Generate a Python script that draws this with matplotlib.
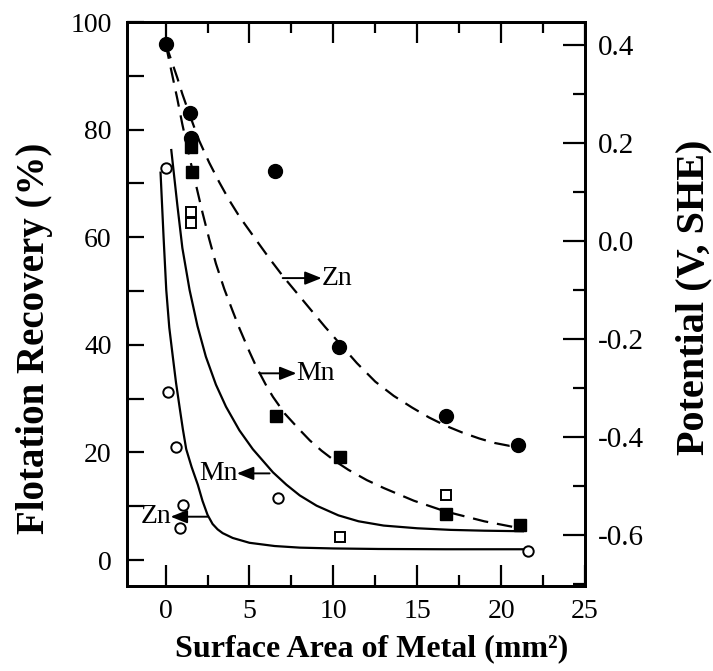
import numpy as np
import matplotlib
matplotlib.use("Agg")
import matplotlib.pyplot as plt
from matplotlib.ticker import MultipleLocator, FixedLocator

plt.rcParams['font.family'] = ['Liberation Serif', 'DejaVu Serif']
plt.rcParams['axes.unicode_minus'] = False

# ---- Potential (right axis, V vs SHE): filled symbols and dashed curves ----
zn_pot_x = [0.0, 1.43, 1.5, 6.5, 10.36, 16.7, 21.0]
zn_pot_v = [0.403, 0.262, 0.210, 0.143, -0.216, -0.357, -0.416]
mn_pot_x = [1.5, 1.6, 6.6, 10.4, 16.7, 21.1]
mn_pot_v = [0.192, 0.141, -0.358, -0.440, -0.558, -0.580]

zn_pot_curve_x = [0.0, 0.35, 0.7, 1.0, 1.43, 2.0, 2.6, 3.2, 3.8, 4.4, 5.4, 6.2, 7.0, 7.8, 8.6, 9.5,
                  10.4, 11.4, 12.5, 13.6, 14.7, 15.7, 16.7, 17.7, 18.7, 19.6, 20.5, 21.0]
zn_pot_curve_v = [0.403, 0.368, 0.333, 0.300, 0.258, 0.205, 0.160, 0.120, 0.083, 0.050, 0.002, -0.036,
                  -0.072, -0.105, -0.138, -0.175, -0.210, -0.249, -0.287, -0.316, -0.340, -0.360,
                  -0.377, -0.391, -0.403, -0.412, -0.418, -0.417]
mn_pot_curve_x = [0.0, 0.34, 0.7, 1.0, 1.5, 2.2, 2.6, 3.0, 3.5, 4.0, 4.4, 5.0, 5.4, 6.0, 6.4, 7.1,
                  7.9, 8.6, 9.3, 10.1, 10.9, 12.0, 13.0, 14.8, 16.7, 19.0, 21.1]
mn_pot_curve_v = [0.403, 0.348, 0.290, 0.238, 0.160, 0.058, 0.004, -0.046, -0.098, -0.143, -0.178,
                  -0.226, -0.256, -0.295, -0.318, -0.352, -0.382, -0.407, -0.428, -0.449, -0.467,
                  -0.488, -0.504, -0.530, -0.552, -0.572, -0.586]

# ---- Flotation recovery (left axis, %): open symbols and solid curves ----
zn_rec_x = [0.0, 0.14, 0.64, 1.03, 0.85, 6.7, 21.6]
zn_rec_y = [72.8, 31.3, 21.0, 10.3, 5.9, 11.5, 1.7]
mn_rec_x = [1.5, 1.5, 10.4, 16.7]
mn_rec_y = [64.6, 62.7, 4.2, 12.1]

zn_rec_curve_x = [-0.3, -0.12, 0.04, 0.22, 0.43, 0.62, 0.83, 1.03, 1.23, 1.55, 1.92, 2.2, 2.5,
                  2.8, 3.1, 3.4, 4.0, 5.0, 6.5, 8.0, 10.0, 12.7, 16.7, 21.3]
zn_rec_curve_y = [72.0, 60.0, 50.2, 43.2, 37.8, 33.0, 28.5, 24.3, 20.6, 17.3, 14.0, 11.0, 8.4,
                  6.7, 5.7, 5.0, 4.1, 3.2, 2.6, 2.3, 2.15, 2.05, 2.0, 2.0]
mn_rec_curve_x = [0.34, 0.7, 1.0, 1.43, 1.9, 2.4, 3.0, 3.6, 4.4, 5.2, 6.4, 7.2, 8.0, 9.0, 10.3,
                  11.5, 13.0, 15.0, 17.0, 19.0, 21.3]
mn_rec_curve_y = [76.2, 66.0, 58.0, 50.2, 43.5, 37.8, 32.6, 28.5, 24.1, 20.6, 16.3, 14.0, 12.0,
                  10.1, 8.3, 7.2, 6.4, 5.9, 5.6, 5.45, 5.35]

x_ticks = [0, 5, 10, 15, 20, 25]
left_ticks = [0, 20, 40, 60, 80, 100]
right_ticks = [-0.6, -0.4, -0.2, 0.0, 0.2, 0.4]
right_tick_labels = ['-0.6', '-0.4', '-0.2', '0.0', '0.2', '0.4']

fig = plt.figure(figsize=(7.13, 6.71), dpi=100)
ax = fig.add_axes([127 / 713, 1 - 586 / 671, 458 / 713, 564 / 671])
ax2 = ax.twinx()

ax.set_xlim(-2.3, 25)
ax.set_ylim(-4.83, 100)
ax2.set_ylim(-0.704, 0.447)

# solid recovery curves and open symbols
ax.plot(zn_rec_curve_x, zn_rec_curve_y, '-', color='k', lw=1.6, solid_joinstyle='round')
ax.plot(mn_rec_curve_x, mn_rec_curve_y, '-', color='k', lw=1.6, solid_joinstyle='round')
ax.plot(zn_rec_x, zn_rec_y, 'o', mfc='white', mec='k', mew=1.4, ms=7.5, ls='none', zorder=5)
ax.plot(mn_rec_x, mn_rec_y, 's', mfc='white', mec='k', mew=1.4, ms=7, ls='none', zorder=5)

# dashed potential curves and filled symbols
ax2.plot(zn_pot_curve_x, zn_pot_curve_v, color='k', lw=1.6, ls=(0, (7, 4)))
ax2.plot(mn_pot_curve_x, mn_pot_curve_v, color='k', lw=1.6, ls=(0, (7, 4)))
ax2.plot(zn_pot_x, zn_pot_v, 'o', color='k', ms=10, ls='none', zorder=5)
ax2.plot(mn_pot_x, mn_pot_v, 's', color='k', ms=8, ls='none', zorder=5)

# annotations
arrow_kw = dict(arrowstyle='-|>,head_length=0.5,head_width=0.2', color='k', lw=1.4,
                mutation_scale=20, shrinkA=0, shrinkB=0)
ann_fs = 20
ax.annotate('', xy=(9.3, 52.4), xytext=(6.98, 52.4), arrowprops=arrow_kw)
ax.text(9.3, 52.4, 'Zn', fontsize=ann_fs, ha='left', va='center')
ax.annotate('', xy=(7.8, 34.7), xytext=(5.6, 34.7), arrowprops=arrow_kw)
ax.text(7.8, 34.7, 'Mn', fontsize=ann_fs, ha='left', va='center')
ax.annotate('', xy=(4.25, 16.1), xytext=(6.2, 16.1), arrowprops=arrow_kw)
ax.text(4.3, 16.1, 'Mn', fontsize=ann_fs, ha='right', va='center')
ax.annotate('', xy=(0.3, 8.05), xytext=(2.52, 8.05), arrowprops=arrow_kw)
ax.text(0.35, 8.05, 'Zn', fontsize=ann_fs, ha='right', va='center')

# ticks
ax.xaxis.set_major_locator(FixedLocator(x_ticks))
ax.xaxis.set_minor_locator(MultipleLocator(2.5))
ax.yaxis.set_major_locator(FixedLocator(left_ticks))
ax.yaxis.set_minor_locator(MultipleLocator(10))
ax2.yaxis.set_major_locator(FixedLocator(right_ticks))
ax2.yaxis.set_minor_locator(MultipleLocator(0.1))
ax2.set_yticklabels(right_tick_labels)

ax.xaxis.set_tick_params(which='major', direction='in', length=15, width=1.6, top=True,
                         bottom=True, labelsize=20, pad=9)
ax.xaxis.set_tick_params(which='minor', direction='in', length=8, width=1.6, top=True, bottom=True)
ax.yaxis.set_tick_params(which='major', direction='in', length=12, width=1.6, left=True,
                         right=False, labelsize=20, pad=11)
ax.yaxis.set_tick_params(which='minor', direction='in', length=12, width=1.6, left=True, right=False)
ax2.yaxis.set_tick_params(which='major', direction='in', length=16, width=1.6, labelsize=21, pad=9)
ax2.yaxis.set_tick_params(which='minor', direction='in', length=9, width=1.6)

for a in (ax, ax2):
    for s in a.spines.values():
        s.set_linewidth(2.0)

ax.set_xlabel('Surface Area of Metal (mm²)', fontsize=23, fontweight='bold')
ax.set_ylabel('Flotation Recovery (%)', fontsize=28, fontweight='bold')
ax2.set_ylabel('Potential (V, SHE)', fontsize=29, fontweight='bold')
ax.xaxis.set_label_coords(0.535, -0.085)
ax.yaxis.set_label_coords(-0.162, 0.44)
ax2.yaxis.set_label_coords(1.198, 0.511)

fig.savefig('out.png', dpi=100)
